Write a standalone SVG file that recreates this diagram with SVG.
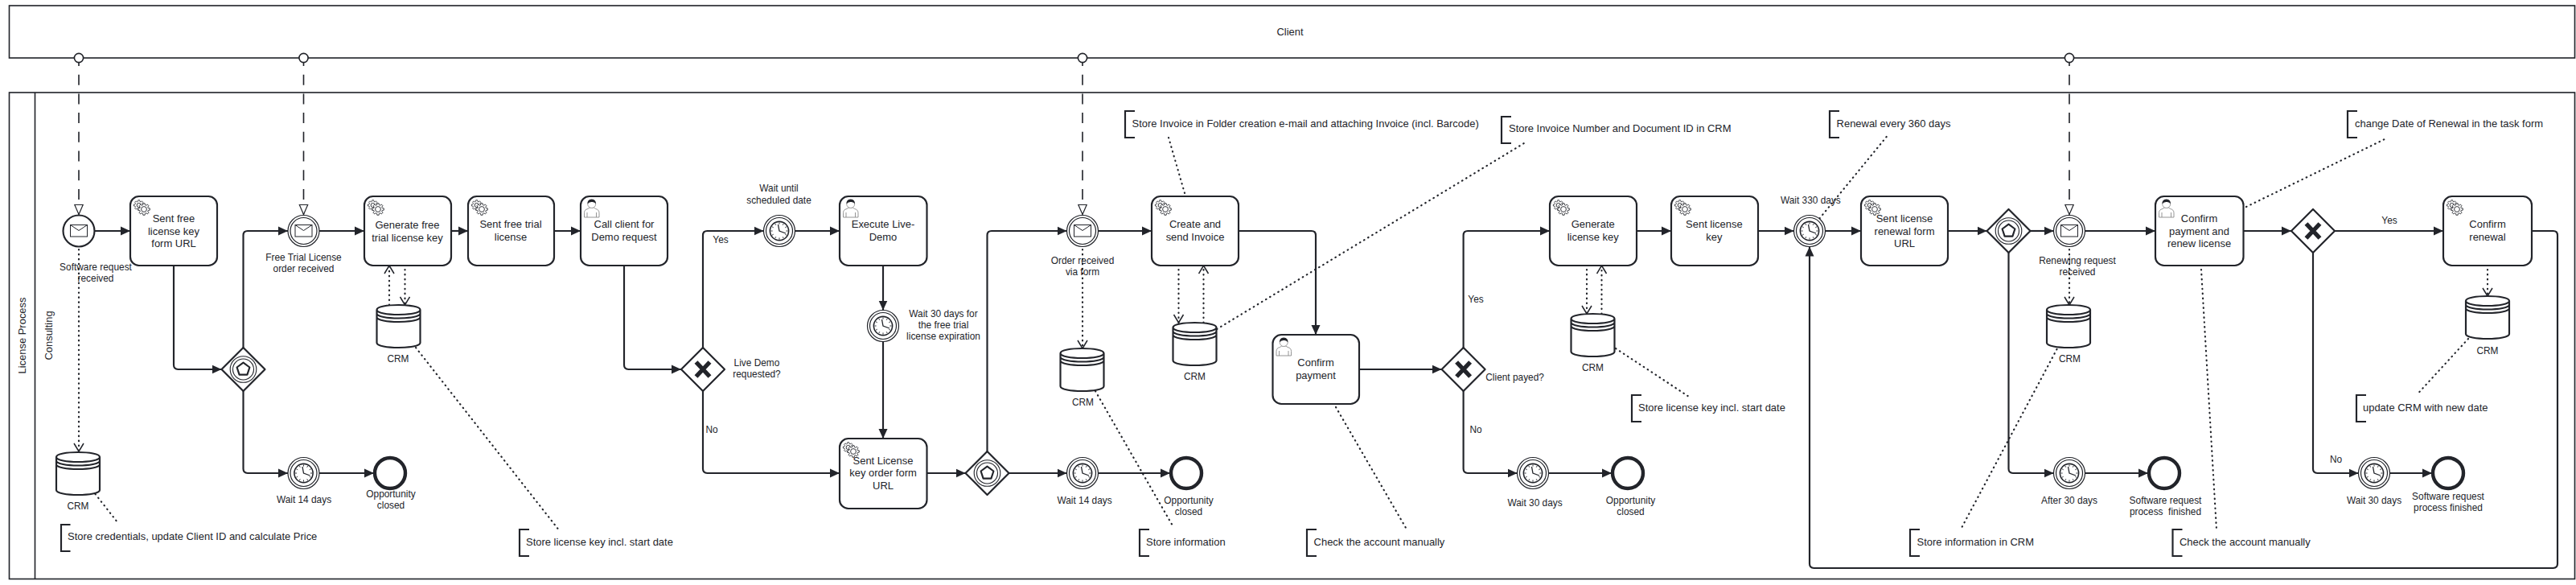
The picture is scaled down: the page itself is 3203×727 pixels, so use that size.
<svg xmlns="http://www.w3.org/2000/svg" width="3203" height="727" viewBox="0 0 3203 727">
<style>
text{font-family:"Liberation Sans",Arial,sans-serif;fill:#22242a;dominant-baseline:central}
.t{font-size:12.96px;text-anchor:middle}
.l{font-size:11.88px;text-anchor:middle}
.a{font-size:12.96px}
.pool{fill:#fff;stroke:#22242a;stroke-width:1.62}
.task{fill:#fff;stroke:#22242a;stroke-width:2.16}
.ev{fill:#fff;stroke:#22242a;stroke-width:2.16}
.ring{fill:#fff;stroke:#22242a;stroke-width:1.2}
.end{fill:#fff;stroke:#22242a;stroke-width:4.4}
.gw{fill:#fff;stroke:#22242a;stroke-width:2.16;stroke-linejoin:round}
.thin{fill:none;stroke:#22242a;stroke-width:1.1}
.x{fill:none;stroke:#22242a;stroke-width:5.4}
.penta{fill:#fff;stroke:#22242a;stroke-width:2.16;stroke-linejoin:round}
.store{fill:#fff;stroke:#22242a;stroke-width:2.16}
.br{fill:none;stroke:#22242a;stroke-width:2.16}
.flow{fill:none;stroke:#22242a;stroke-width:2.16;marker-end:url(#arrow)}
.msg{fill:none;stroke:#22242a;stroke-width:1.62;stroke-dasharray:13 10.7;marker-end:url(#msgEnd)}
.assoc{fill:none;stroke:#22242a;stroke-width:2.16;stroke-linecap:round;stroke-dasharray:.54 5.4}
.data{marker-end:url(#open)}
.dot{fill:#fff;stroke:#22242a;stroke-width:1.62}
</style>
<defs>
<marker id="arrow" markerUnits="userSpaceOnUse" markerWidth="13" markerHeight="13" refX="12" refY="6" orient="auto"><path d="M0 .5L12 6L0 11.5Z" fill="#22242a"/></marker>
<marker id="msgEnd" markerUnits="userSpaceOnUse" markerWidth="14" markerHeight="14" refX="12.5" refY="6" orient="auto"><path d="M.5 .8L12.5 6L.5 11.2Z" fill="#fff" stroke="#22242a" stroke-width="1.2" stroke-dasharray="none"/></marker>
<marker id="open" markerUnits="userSpaceOnUse" markerWidth="14" markerHeight="16" refX="11" refY="7" orient="auto"><path d="M1 1L11 7L1 13" fill="none" stroke="#22242a" stroke-width="1.5" stroke-dasharray="none"/></marker>
<path id="cog" d="M5.41 -1.45L7.41 -1.17L7.41 1.17L5.41 1.45L4.85 2.8L6.07 4.41L4.41 6.07L2.8 4.85L1.45 5.41L1.17 7.41L-1.17 7.41L-1.45 5.41L-2.8 4.85L-4.41 6.07L-6.07 4.41L-4.85 2.8L-5.41 1.45L-7.41 1.17L-7.41 -1.17L-5.41 -1.45L-4.85 -2.8L-6.07 -4.41L-4.41 -6.07L-2.8 -4.85L-1.45 -5.41L-1.17 -7.41L1.17 -7.41L1.45 -5.41L2.8 -4.85L4.41 -6.07L6.07 -4.41L4.85 -2.8Z"/>
<g id="gear" fill="#fff" stroke="#22242a" stroke-width=".9">
<use href="#cog" transform="translate(10.7 11) scale(.85)"/>
<circle cx="10.7" cy="11" r="2.6"/>
<use href="#cog" transform="translate(17 16) scale(.98)"/>
<circle cx="17" cy="16" r="3.4"/>
</g>
<g id="user">
<path d="M4.5 26V20.5Q4.5 16.5 9 15.5L11 14H16.5L18.5 15.5Q23 16.5 23 20.5V26Z M8 26V20 M19.5 26V20" fill="#fff" stroke="#8a8a8a" stroke-width=".9"/>
<circle cx="13.7" cy="9.5" r="5" fill="#fff" stroke="#8a8a8a" stroke-width=".8"/>
<path d="M8.6 9.5Q8 3.6 13.7 3.4Q19.4 3.6 18.8 9.5Q17.5 6.5 13.7 7Q10 6.8 8.6 9.5Z" fill="#22242a"/>
</g>
<g id="envelope"><rect x="-10.5" y="-7.5" width="21" height="14.5" fill="#fff" stroke="#22242a" stroke-width="1"/><path d="M-10.5 -7.5L0 -.5L10.5 -7.5" fill="none" stroke="#22242a" stroke-width="1"/></g>
<g id="clock"><circle r="11.6" fill="#fff" stroke="#22242a" stroke-width="1.6"/><path d="M0 -10.5V-8.4M0 10.5V8.4M-10.5 0H-8.4M10.5 0H8.4M5.25 -9.09L4.2 -7.27M9.09 -5.25L7.27 -4.2M9.09 5.25L7.27 4.2M5.25 9.09L4.2 7.27M-5.25 9.09L-4.2 7.27M-9.09 5.25L-7.27 4.2M-9.09 -5.25L-7.27 -4.2M-5.25 -9.09L-4.2 -7.27" fill="none" stroke="#22242a" stroke-width=".9"/><path d="M-1.5 -8L0 0L8 3" fill="none" stroke="#22242a" stroke-width="1.3"/></g>
<path id="storeShape" d="M0 6C0 -2 54 -2 54 6V47C54 55 0 55 0 47Z M0 6C0 14 54 14 54 6 M0 10.5C0 18.5 54 18.5 54 10.5 M0 15C0 23 54 23 54 15"/>
<g id="eventGw"><path class="gw" d="M0 -27L27 0L0 27L-27 0Z"/><circle class="thin" r="16.3"/><circle class="thin" r="13"/><path class="penta" d="M0 -8.3L7.9 -2.5L4.9 6.7L-4.9 6.7L-7.9 -2.5Z"/></g>
<g id="xorGw"><path class="gw" d="M0 -27L27 0L0 27L-27 0Z"/><path class="x" d="M-8.5 -9L8.5 9M8.5 -9L-8.5 9"/></g>
</defs>
<rect width="3203" height="727" fill="#fff"/>

<g id="pool-client"><rect class="pool" x="11.5" y="7" width="3190" height="65"/><text class="t" x="1604" y="39">Client</text></g>
<g id="pool-license"><rect class="pool" x="11.5" y="115" width="3190" height="604.5"/><path class="pool" d="M43.5 115V719.5"/><text class="t" transform="translate(27.5 417) rotate(-90)">License Process</text><text class="t" transform="translate(60 417) rotate(-90)">Consulting</text></g>

<g id="connectors">
<path class="flow" d="M118 287H162"/>
<path class="flow" d="M216 330V453.6Q216 459 221.4 459H275.5"/>
<path class="flow" d="M302.5 432V292.4Q302.5 287 307.9 287H358"/>
<path class="flow" d="M302.5 486V582.6Q302.5 588 307.9 588H358"/>
<path class="flow" d="M397 588H465"/>
<path class="flow" d="M397 287H453"/>
<path class="flow" d="M561 287H582"/>
<path class="flow" d="M689 287H722"/>
<path class="flow" d="M776 330V453.6Q776 459 781.4 459H847"/>
<path class="flow" d="M874 432V292.4Q874 287 879.4 287H949.5"/>
<path class="flow" d="M874 486V582.6Q874 588 879.4 588H1044"/>
<path class="flow" d="M988.5 287H1044"/>
<path class="flow" d="M1098 330V385.5"/>
<path class="flow" d="M1098 424.5V545"/>
<path class="flow" d="M1152.5 588H1200.5"/>
<path class="flow" d="M1227.5 561V292.4Q1227.5 287 1232.9 287H1326.5"/>
<path class="flow" d="M1254.5 588H1326.5"/>
<path class="flow" d="M1365.5 588H1455"/>
<path class="flow" d="M1365.5 287H1432"/>
<path class="flow" d="M1540 287H1630.6Q1636 287 1636 292.4V416"/>
<path class="flow" d="M1690 459H1792.6"/>
<path class="flow" d="M1819.6 432V292.4Q1819.6 287 1825 287H1927"/>
<path class="flow" d="M1819.6 486V582.6Q1819.6 588 1825 588H1886.5"/>
<path class="flow" d="M1925.5 588H2004"/>
<path class="flow" d="M2035 287H2078"/>
<path class="flow" d="M2186 287H2230.5"/>
<path class="flow" d="M2269.5 287H2314"/>
<path class="flow" d="M2422 287H2470.5"/>
<path class="flow" d="M2524.5 287H2553.5"/>
<path class="flow" d="M2592.5 287H2680"/>
<path class="flow" d="M2497.5 314V582.6Q2497.5 588 2502.9 588H2553.5"/>
<path class="flow" d="M2592.5 588H2671"/>
<path class="flow" d="M2789.5 287H2849"/>
<path class="flow" d="M2903 287H3038"/>
<path class="flow" d="M2876 314V582.6Q2876 588 2881.4 588H2932.5"/>
<path class="flow" d="M2971.5 588H3024"/>
<path class="flow" d="M3148 287H3174.6Q3180 287 3180 292.4V700.6Q3180 706 3174.6 706H2255.4Q2250 706 2250 700.6V306.5"/>

<path class="msg" d="M98 69V266.5"/>
<path class="msg" d="M377.5 69V266.5"/>
<path class="msg" d="M1346 69V266.5"/>
<path class="msg" d="M2573 69V266.5"/>
<circle class="dot" cx="98" cy="72" r="5.6"/>
<circle class="dot" cx="377.5" cy="72" r="5.6"/>
<circle class="dot" cx="1346" cy="72" r="5.6"/>
<circle class="dot" cx="2573" cy="72" r="5.6"/>

<path class="assoc data" d="M98 310V561"/>
<path class="assoc data" d="M1346 310V433"/>
<path class="assoc data" d="M2573 310V379"/>
<path class="assoc data" d="M484 379V330"/>
<path class="assoc data" d="M503.5 335V379"/>
<path class="assoc data" d="M1465.5 335V401"/>
<path class="assoc data" d="M1496.5 401V330"/>
<path class="assoc data" d="M1973 335V390"/>
<path class="assoc data" d="M1991.5 390V330"/>
<path class="assoc data" d="M3093 335V368"/>

<path class="assoc" d="M118.5 614L146 649"/>
<path class="assoc" d="M517 432L693.6 657"/>
<path class="assoc" d="M1362 486L1459 655"/>
<path class="assoc" d="M1453 171L1473 240"/>
<path class="assoc" d="M1513 409L1895 178"/>
<path class="assoc" d="M1661 506L1748.6 657"/>
<path class="assoc" d="M2009 433L2098.6 492"/>
<path class="assoc" d="M2345.7 170L2262 272"/>
<path class="assoc" d="M2557.5 434L2439 656"/>
<path class="assoc" d="M2737 335L2756 658"/>
<path class="assoc" d="M2793 257L2965 173"/>
<path class="assoc" d="M3069 421L3005.6 490"/>

<text class="l" x="896" y="297.6">Yes</text>
<text class="l" x="885" y="534">No</text>
<text class="l" x="1835" y="372">Yes</text>
<text class="l" x="1835" y="534">No</text>
<text class="l" x="2971" y="273.6">Yes</text>
<text class="l" x="2904.6" y="571">No</text>
</g>

<g id="start-request"><circle class="ev" cx="98" cy="287" r="19.5"/><use href="#envelope" x="98" y="287"/><text class="l" x="119" y="332.4">Software request</text><text class="l" x="119" y="346.4">received</text></g>
<g id="task-sent-key-url"><rect class="task" x="162" y="244" width="108" height="86" rx="10.8"/><use href="#gear" x="162" y="244"/><text class="t" x="216" y="271">Sent free</text><text class="t" x="216" y="287">license key</text><text class="t" x="216" y="302">form URL</text></g>
<g id="gw-event-1"><use href="#eventGw" x="302.5" y="459"/></g>
<g id="catch-free-trial"><circle class="ring" cx="377.5" cy="287" r="19.5"/><circle class="ring" cx="377.5" cy="287" r="16.5"/><use href="#envelope" x="377.5" y="287"/><text class="l" x="377.5" y="320">Free Trial License</text><text class="l" x="377.5" y="334">order received</text></g>
<g id="timer-wait14-1"><circle class="ring" cx="377.5" cy="588" r="19.5"/><circle class="ring" cx="377.5" cy="588" r="16.5"/><use href="#clock" x="377.5" y="588"/><text class="l" x="378" y="621">Wait 14 days</text></g>
<g id="end-1"><circle class="end" cx="485" cy="588" r="19"/><text class="l" x="486" y="614">Opportunity</text><text class="l" x="486" y="628">closed</text></g>
<g id="task-gen-free"><rect class="task" x="453" y="244" width="108" height="86" rx="10.8"/><use href="#gear" x="453" y="244"/><text class="t" x="506.5" y="279">Generate free</text><text class="t" x="506.5" y="295">trial license key</text></g>
<g id="store-crm-1"><use class="store" href="#storeShape" x="70" y="562"/><text class="l" x="97" y="629">CRM</text></g>
<g id="store-crm-2"><use class="store" href="#storeShape" x="468.5" y="379"/><text class="l" x="495" y="446">CRM</text></g>
<g id="task-sent-trial"><rect class="task" x="582" y="244" width="107" height="86" rx="10.8"/><use href="#gear" x="582" y="244"/><text class="t" x="635" y="278.4">Sent free trial</text><text class="t" x="635" y="294.4">license</text></g>
<g id="task-call"><rect class="task" x="722" y="244" width="108" height="86" rx="10.8"/><use href="#user" x="722" y="244"/><text class="t" x="776" y="278.4">Call client for</text><text class="t" x="776" y="294.4">Demo request</text></g>
<g id="gw-live-demo"><use href="#xorGw" x="874" y="459"/><text class="l" x="941" y="451">Live Demo</text><text class="l" x="941" y="465">requested?</text></g>
<g id="timer-scheduled"><circle class="ring" cx="969" cy="287" r="19.5"/><circle class="ring" cx="969" cy="287" r="16.5"/><use href="#clock" x="969" y="287"/><text class="l" x="968.5" y="234.4">Wait until</text><text class="l" x="968.5" y="249">scheduled date</text></g>
<g id="task-execute"><rect class="task" x="1044" y="244" width="108.5" height="86" rx="10.8"/><use href="#user" x="1044" y="244"/><text class="t" x="1098" y="278.4">Execute Live-</text><text class="t" x="1098" y="294.4">Demo</text></g>
<g id="timer-wait30-trial"><circle class="ring" cx="1098" cy="405" r="19.5"/><circle class="ring" cx="1098" cy="405" r="16.5"/><use href="#clock" x="1098" y="405"/><text class="l" x="1173" y="390">Wait 30 days for</text><text class="l" x="1173" y="404">the free trial</text><text class="l" x="1173" y="418">license expiration</text></g>
<g id="task-sent-order"><rect class="task" x="1044" y="545" width="108.5" height="87" rx="10.8"/><use href="#gear" x="1044" y="545"/><text class="t" x="1098" y="572.4">Sent License</text><text class="t" x="1098" y="587.6">key order form</text><text class="t" x="1098" y="603">URL</text></g>
<g id="gw-event-2"><use href="#eventGw" x="1227.5" y="588"/></g>
<g id="catch-order"><circle class="ring" cx="1346" cy="287" r="19.5"/><circle class="ring" cx="1346" cy="287" r="16.5"/><use href="#envelope" x="1346" y="287"/><text class="l" x="1346" y="324">Order received</text><text class="l" x="1346" y="338">via form</text></g>
<g id="timer-wait14-2"><circle class="ring" cx="1346" cy="588" r="19.5"/><circle class="ring" cx="1346" cy="588" r="16.5"/><use href="#clock" x="1346" y="588"/><text class="l" x="1348.6" y="621.6">Wait 14 days</text></g>
<g id="end-2"><circle class="end" cx="1475" cy="588" r="19"/><text class="l" x="1478" y="621.6">Opportunity</text><text class="l" x="1478" y="635.6">closed</text></g>
<g id="store-crm-3"><use class="store" href="#storeShape" x="1318.5" y="433"/><text class="l" x="1346.5" y="499.6">CRM</text></g>
<g id="task-invoice"><rect class="task" x="1432" y="244" width="108" height="86" rx="10.8"/><use href="#gear" x="1432" y="244"/><text class="t" x="1486" y="278.4">Create and</text><text class="t" x="1486" y="294.4">send Invoice</text></g>
<g id="store-crm-4"><use class="store" href="#storeShape" x="1458.5" y="401"/><text class="l" x="1485.5" y="467.5">CRM</text></g>
<g id="task-confirm-pay"><rect class="task" x="1582.5" y="416" width="107.5" height="86" rx="10.8"/><use href="#user" x="1582.5" y="416"/><text class="t" x="1636" y="450.4">Confirm</text><text class="t" x="1636" y="466.8">payment</text></g>
<g id="gw-client-payed"><use href="#xorGw" x="1819.6" y="459"/><text class="l" x="1883.6" y="469">Client payed?</text></g>
<g id="task-gen-key"><rect class="task" x="1927" y="244" width="108" height="86" rx="10.8"/><use href="#gear" x="1927" y="244"/><text class="t" x="1980.7" y="278.4">Generate</text><text class="t" x="1980.7" y="294.4">license key</text></g>
<g id="store-crm-5"><use class="store" href="#storeShape" x="1953.5" y="390"/><text class="l" x="1980.5" y="457">CRM</text></g>
<g id="task-sent-key"><rect class="task" x="2078" y="244" width="108" height="86" rx="10.8"/><use href="#gear" x="2078" y="244"/><text class="t" x="2131.4" y="278.4">Sent license</text><text class="t" x="2131.4" y="294.4">key</text></g>
<g id="timer-wait30-pay"><circle class="ring" cx="1906" cy="588" r="19.5"/><circle class="ring" cx="1906" cy="588" r="16.5"/><use href="#clock" x="1906" y="588"/><text class="l" x="1908.6" y="625">Wait 30 days</text></g>
<g id="end-3"><circle class="end" cx="2024" cy="588" r="19"/><text class="l" x="2027.5" y="621.6">Opportunity</text><text class="l" x="2027.5" y="635.6">closed</text></g>
<g id="timer-wait330"><circle class="ring" cx="2250" cy="287" r="19.5"/><circle class="ring" cx="2250" cy="287" r="16.5"/><use href="#clock" x="2250" y="287"/><text class="l" x="2251.4" y="249">Wait 330 days</text></g>
<g id="task-renewal-url"><rect class="task" x="2314" y="244" width="108" height="86" rx="10.8"/><use href="#gear" x="2314" y="244"/><text class="t" x="2368" y="271.6">Sent license</text><text class="t" x="2368" y="287">renewal form</text><text class="t" x="2368" y="302">URL</text></g>
<g id="gw-event-3"><use href="#eventGw" x="2497.5" y="287"/></g>
<g id="catch-renewing"><circle class="ring" cx="2573" cy="287" r="19.5"/><circle class="ring" cx="2573" cy="287" r="16.5"/><use href="#envelope" x="2573" y="287"/><text class="l" x="2583" y="324">Renewing request</text><text class="l" x="2583" y="338">received</text></g>
<g id="store-crm-6"><use class="store" href="#storeShape" x="2545" y="379"/><text class="l" x="2573.5" y="446">CRM</text></g>
<g id="timer-after30"><circle class="ring" cx="2573" cy="588" r="19.5"/><circle class="ring" cx="2573" cy="588" r="16.5"/><use href="#clock" x="2573" y="588"/><text class="l" x="2573" y="621.6">After 30 days</text></g>
<g id="end-4"><circle class="end" cx="2691" cy="588" r="19"/><text class="l" x="2692.5" y="621.6">Software request</text><text class="l" x="2692.5" y="635.6" xml:space="preserve">process  finished</text></g>
<g id="task-renew"><rect class="task" x="2680" y="244" width="109.5" height="86" rx="10.8"/><use href="#user" x="2680" y="244"/><text class="t" x="2734.5" y="271.6">Confirm</text><text class="t" x="2734.5" y="287">payment and</text><text class="t" x="2734.5" y="302">renew license</text></g>
<g id="gw-renew"><use href="#xorGw" x="2876" y="287"/></g>
<g id="task-confirm-renewal"><rect class="task" x="3038" y="244" width="110" height="86" rx="10.8"/><use href="#gear" x="3038" y="244"/><text class="t" x="3093" y="278.4">Confirm</text><text class="t" x="3093" y="294.4">renewal</text></g>
<g id="store-crm-7"><use class="store" href="#storeShape" x="3066" y="368"/><text class="l" x="3093" y="436">CRM</text></g>
<g id="timer-wait30-renew"><circle class="ring" cx="2952" cy="588" r="19.5"/><circle class="ring" cx="2952" cy="588" r="16.5"/><use href="#clock" x="2952" y="588"/><text class="l" x="2952" y="621.6">Wait 30 days</text></g>
<g id="end-5"><circle class="end" cx="3044" cy="588" r="19"/><text class="l" x="3044" y="617">Software request</text><text class="l" x="3044" y="631">process finished</text></g>

<g id="note-credentials"><path class="br" d="M87.5 652H76V685H87.5"/><text class="a" x="84" y="666">Store credentials, update Client ID and calculate Price</text></g>
<g id="note-key-1"><path class="br" d="M658 658H646V691H658"/><text class="a" x="654" y="673.6">Store license key incl. start date</text></g>
<g id="note-information"><path class="br" d="M1429 658H1417V691H1429"/><text class="a" x="1425" y="673.6">Store information</text></g>
<g id="note-invoice-folder"><path class="br" d="M1411 138H1399V171H1411"/><text class="a" x="1407.5" y="153.6">Store Invoice in Folder creation e-mail and attaching Invoice (incl. Barcode)</text></g>
<g id="note-invoice-number"><path class="br" d="M1879 145H1867V178H1879"/><text class="a" x="1876" y="159.6">Store Invoice Number and Document ID in CRM</text></g>
<g id="note-check-1"><path class="br" d="M1637 658H1625V691H1637"/><text class="a" x="1633.6" y="673.6">Check the account manually</text></g>
<g id="note-key-2"><path class="br" d="M2041 491H2029V524H2041"/><text class="a" x="2037" y="506.4">Store license key incl. start date</text></g>
<g id="note-renewal"><path class="br" d="M2287 138H2275V171H2287"/><text class="a" x="2283.6" y="153.6">Renewal every 360 days</text></g>
<g id="note-crm-info"><path class="br" d="M2387 658H2375V691H2387"/><text class="a" x="2383.6" y="673.6">Store information in CRM</text></g>
<g id="note-check-2"><path class="br" d="M2713.5 658H2701.5V691H2713.5"/><text class="a" x="2710" y="673.6">Check the account manually</text></g>
<g id="note-change-date"><path class="br" d="M2931 138H2919V171H2931"/><text class="a" x="2928" y="153.6">change Date of Renewal in the task form</text></g>
<g id="note-update"><path class="br" d="M2942 491H2930V524H2942"/><text class="a" x="2938" y="506.4">update CRM with new date</text></g>
</svg>
